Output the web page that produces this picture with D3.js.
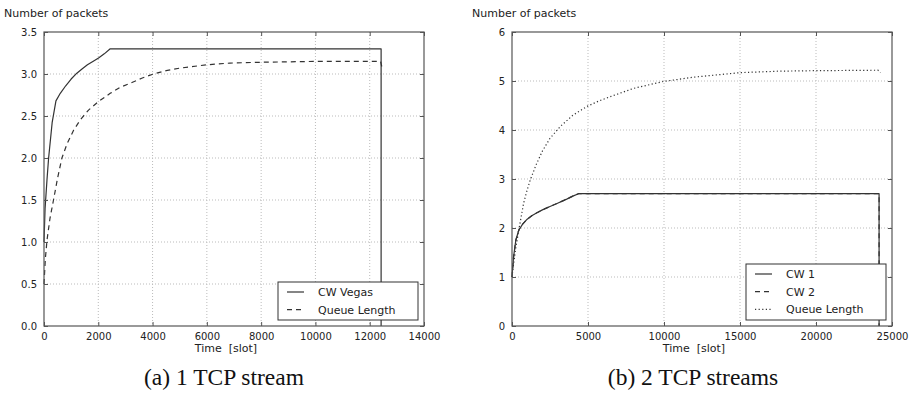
<!DOCTYPE html>
<html>
<head>
<meta charset="utf-8">
<script src="https://cdn.jsdelivr.net/npm/d3@7"></script>
<style>
  body { margin: 0; background: #fff; }
  svg { display: block; }
  text { font-family: "DejaVu Sans", sans-serif; fill: #222; }
  .caption { font-family: "Liberation Serif", "Times New Roman", serif; font-size: 23.5px; fill: #111; }
</style>
</head>
<body>
<svg id="chart" width="915" height="394"></svg>
<script>
// (a) 1 TCP stream
const vegasTime  = [0, 40, 110, 170, 300, 440, 600, 800, 1000, 1210, 1400, 1600, 1800, 2010, 2220, 2440, 12420, 12420];
const vegasCw    = [1.0, 1.4, 1.74, 2.0, 2.42, 2.68, 2.77, 2.86, 2.94, 3.01, 3.06, 3.11, 3.15, 3.19, 3.24, 3.3, 3.3, 0];
const queueATime = [0, 50, 110, 220, 350, 500, 660, 850, 1090, 1350, 1640, 2000, 2440, 2800, 3175, 3600, 4030, 4500, 5010, 6000, 6850, 8000, 10000, 12400, 12450];
const queueA     = [0.5, 0.8, 1.02, 1.28, 1.5, 1.76, 2.0, 2.17, 2.33, 2.46, 2.57, 2.67, 2.77, 2.84, 2.89, 2.95, 3.0, 3.04, 3.07, 3.11, 3.13, 3.14, 3.15, 3.15, 3.08];

// (b) 2 TCP streams
const cw1Time    = [0, 100, 250, 450, 700, 1000, 1300, 1640, 2000, 2500, 2960, 3600, 4000, 4375, 24150, 24150];
const cw1        = [1.0, 1.4, 1.75, 1.96, 2.08, 2.18, 2.25, 2.31, 2.37, 2.44, 2.5, 2.59, 2.65, 2.7, 2.7, 0];
const cw2Time    = cw1Time;
const cw2        = cw1;
const queueBTime = [0, 100, 250, 500, 760, 1000, 1200, 1600, 2000, 2500, 3170, 4000, 4930, 5700, 6460, 8000, 9960, 12000, 15000, 17500, 19800, 24080, 24240];
const queueB     = [1.0, 1.25, 1.6, 2.05, 2.5, 2.78, 2.98, 3.3, 3.57, 3.83, 4.07, 4.3, 4.48, 4.59, 4.68, 4.85, 4.99, 5.08, 5.17, 5.2, 5.21, 5.22, 5.17];

const yTicksA = [0, 0.5, 1.0, 1.5, 2.0, 2.5, 3.0, 3.5];
const xTicksA = [0, 2000, 4000, 6000, 8000, 10000, 12000, 14000];
const yTicksB = [0, 1, 2, 3, 4, 5, 6];
const xTicksB = [0, 5000, 10000, 15000, 20000, 25000];

const lineColor = "#333";

const panels = [
  {
    left: 44, right: 424, top: 32, bottom: 326,
    xMax: 14000, yMax: 3.5, xTicks: xTicksA, yTicks: yTicksA, yFmt: d3.format(".1f"),
    caption: "(a)\u00a01 TCP stream", captionX: 224,
    series: [
      { name: "CW Vegas", t: vegasTime, v: vegasCw, dash: null },
      { name: "Queue Length", t: queueATime, v: queueA, dash: "5,4" }
    ],
    legend: { x: 278, y: 282, w: 140, h: 38 }
  },
  {
    left: 512, right: 892, top: 32, bottom: 326,
    xMax: 25000, yMax: 6, xTicks: xTicksB, yTicks: yTicksB, yFmt: d3.format("d"),
    caption: "(b)\u00a02 TCP streams", captionX: 693,
    series: [
      { name: "CW 1", t: cw1Time, v: cw1, dash: null },
      { name: "CW 2", t: cw2Time, v: cw2, dash: "5,4" },
      { name: "Queue Length", t: queueBTime, v: queueB, dash: "1.2,2.4" }
    ],
    legend: { x: 746, y: 264, w: 140, h: 56 }
  }
];

const svg = d3.select("#chart");

panels.forEach(p => {
  const x = d3.scaleLinear().domain([0, p.xMax]).range([p.left, p.right]);
  const y = d3.scaleLinear().domain([0, p.yMax]).range([p.bottom, p.top]);
  const g = svg.append("g");

  // grid
  g.append("g").selectAll("line")
    .data(p.xTicks.slice(1, -1))
    .join("line")
      .attr("x1", d => x(d)).attr("x2", d => x(d))
      .attr("y1", p.top).attr("y2", p.bottom)
      .attr("stroke", "#bbb").attr("stroke-width", 1)
      .attr("stroke-dasharray", "1,2");
  g.append("g").selectAll("line")
    .data(p.yTicks.slice(1, -1))
    .join("line")
      .attr("x1", p.left).attr("x2", p.right)
      .attr("y1", d => y(d)).attr("y2", d => y(d))
      .attr("stroke", "#bbb").attr("stroke-width", 1)
      .attr("stroke-dasharray", "1,2");

  // curves (later series first so the solid one sits on top)
  const line = d3.line().x(d => x(d[0])).y(d => y(d[1]));
  p.series.slice().reverse().forEach(s => {
    g.append("path")
      .datum(s.t.map((t, i) => [t, s.v[i]]))
      .attr("fill", "none")
      .attr("stroke", lineColor)
      .attr("stroke-width", 1.2)
      .attr("stroke-linejoin", "round")
      .attr("stroke-dasharray", s.dash)
      .attr("d", line);
  });

  // axes, inward ticks on all four sides
  const xb = d3.axisBottom(x).tickValues(p.xTicks).tickSize(-4).tickPadding(7).tickFormat(d3.format("d"));
  const yl = d3.axisLeft(y).tickValues(p.yTicks).tickSize(-4).tickPadding(7).tickFormat(p.yFmt);
  const xt = d3.axisTop(x).tickValues(p.xTicks).tickSize(-4).tickFormat("");
  const yr = d3.axisRight(y).tickValues(p.yTicks).tickSize(-4).tickFormat("");
  [[xb, `translate(0,${p.bottom})`], [yl, `translate(${p.left},0)`],
   [xt, `translate(0,${p.top})`], [yr, `translate(${p.right},0)`]].forEach(([ax, tr]) => {
    const a = g.append("g").attr("transform", tr).call(ax);
    a.select(".domain").remove();
    a.selectAll(".tick line").attr("stroke", "#555");
    a.selectAll("text").attr("font-size", 10).attr("font-family", "DejaVu Sans").attr("fill", "#222");
  });

  g.append("rect")
    .attr("x", p.left).attr("y", p.top)
    .attr("width", p.right - p.left).attr("height", p.bottom - p.top)
    .attr("fill", "none").attr("stroke", "#555").attr("stroke-width", 1.2);

  // labels
  g.append("text").attr("x", p.left - 40).attr("y", 17).attr("font-size", 11)
    .text("Number of packets");
  g.append("text").attr("x", (p.left + p.right) / 2 - 8).attr("y", 352)
    .attr("text-anchor", "middle").attr("font-size", 11)
    .style("white-space", "pre").text("Time  [slot]");
  g.append("text").attr("class", "caption").attr("x", p.captionX).attr("y", 385)
    .attr("text-anchor", "middle").text(p.caption);

  // legend
  const L = p.legend;
  const lg = g.append("g").attr("transform", `translate(${L.x},${L.y})`);
  lg.append("rect").attr("width", L.w).attr("height", L.h)
    .attr("fill", "#fff").attr("stroke", "#333").attr("stroke-width", 1);
  p.series.forEach((s, i) => {
    const cy = 10 + i * 17.7;
    lg.append("line").attr("x1", 9).attr("x2", 26).attr("y1", cy).attr("y2", cy)
      .attr("stroke", lineColor).attr("stroke-width", 1.2).attr("stroke-dasharray", s.dash);
    lg.append("text").attr("x", 40).attr("y", cy + 4).attr("font-size", 11).text(s.name);
  });
});
</script>
</body>
</html>
